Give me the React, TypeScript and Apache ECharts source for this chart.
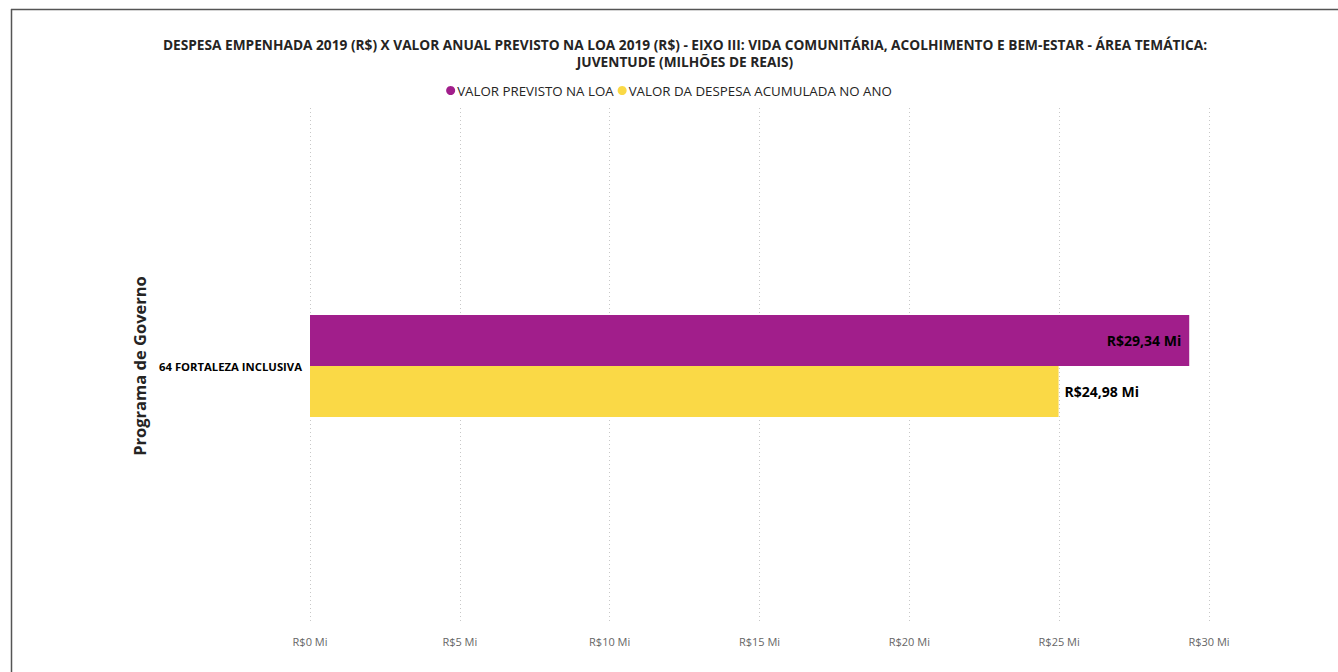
import React, { useEffect, useRef } from "react";
import * as echarts from "echarts";

const categories = ["64 FORTALEZA INCLUSIVA"];
const seriesNames = ["VALOR PREVISTO NA LOA", "VALOR DA DESPESA ACUMULADA NO ANO"];
const valorPrevisto = [29.34];
const valorDespesa = [24.98];
const xTicks = [0, 5, 10, 15, 20, 25, 30];

const FONT = "'Open Sans', 'Noto Sans', sans-serif";
const fmt = (v: number) => "R$" + v.toFixed(2).replace(".", ",") + " Mi";

export default function App() {
  const ref = useRef<HTMLDivElement>(null);
  useEffect(() => {
    const chart = echarts.init(ref.current!, null, { renderer: "svg" });
    chart.setOption({
      animation: false,
      backgroundColor: "#ffffff",
      textStyle: { fontFamily: FONT },
      title: {
        text: "DESPESA EMPENHADA 2019 (R$) X VALOR ANUAL PREVISTO NA LOA 2019 (R$) - EIXO III: VIDA COMUNITÁRIA, ACOLHIMENTO E BEM-ESTAR - ÁREA TEMÁTICA:\nJUVENTUDE (MILHÕES DE REAIS)",
        left: 680,
        textAlign: "center",
        top: 31,
        textStyle: { fontFamily: FONT, fontSize: 13.7, fontWeight: "bold", color: "#252423", lineHeight: 17 },
      },
      legend: {
        top: 79,
        left: "center",
        icon: "circle",
        itemWidth: 9,
        itemHeight: 9,
        itemGap: 4,
        data: seriesNames,
        textStyle: { fontFamily: FONT, fontSize: 13.3, color: "#252423", padding: [0, 0, 0, -3] },
      },
      grid: { left: 310, right: 129, top: 108, bottom: 48, containLabel: false },
      xAxis: {
        type: "value",
        min: 0,
        max: 30,
        interval: 5,
        axisLine: { show: false },
        axisTick: { show: false },
        splitLine: { show: true, lineStyle: { type: [1, 3], color: "#c8c8c8", width: 1 } },
        axisLabel: {
          fontFamily: FONT,
          fontSize: 11,
          color: "#666666",
          margin: 12,
          formatter: (v: number) => (xTicks.includes(v) ? "R$" + v + " Mi" : ""),
        },
      },
      yAxis: {
        type: "category",
        data: categories,
        inverse: true,
        axisLine: { show: false },
        axisTick: { show: false },
        axisLabel: { fontFamily: FONT, fontSize: 11.3, fontWeight: "bold", color: "#000000", margin: 8 },
        name: "Programa de Governo",
        nameLocation: "middle",
        nameGap: 162,
        nameRotate: 90,
        nameTextStyle: { fontFamily: FONT, fontSize: 16.5, fontWeight: "bold", color: "#252423" },
      },
      series: [
        {
          name: seriesNames[0],
          type: "bar",
          data: valorPrevisto,
          barWidth: 51,
          barGap: "0%",
          itemStyle: { color: "#A11E8B" },
          label: {
            show: true,
            position: "insideRight",
            distance: 8,
            formatter: (p: any) => fmt(p.value),
            fontFamily: FONT,
            fontSize: 14,
            fontWeight: "bold",
            color: "#000000",
          },
        },
        {
          name: seriesNames[1],
          type: "bar",
          data: valorDespesa,
          barWidth: 51,
          barGap: "0%",
          itemStyle: { color: "#FAD946" },
          label: {
            show: true,
            position: "right",
            distance: 6,
            formatter: (p: any) => fmt(p.value),
            fontFamily: FONT,
            fontSize: 14,
            fontWeight: "bold",
            color: "#000000",
          },
        },
      ],
      graphic: [
        { type: "line", shape: { x1: 11, y1: 9.5, x2: 1338, y2: 9.5 }, style: { stroke: "#555555", lineWidth: 1.5 } },
        { type: "line", shape: { x1: 11.5, y1: 9, x2: 11.5, y2: 672 }, style: { stroke: "#555555", lineWidth: 1.5 } },
      ],
    });
    return () => chart.dispose();
  }, []);
  return <div ref={ref} style={{ position: "fixed", left: 0, top: 0, width: 1338, height: 672 }} />;
}
